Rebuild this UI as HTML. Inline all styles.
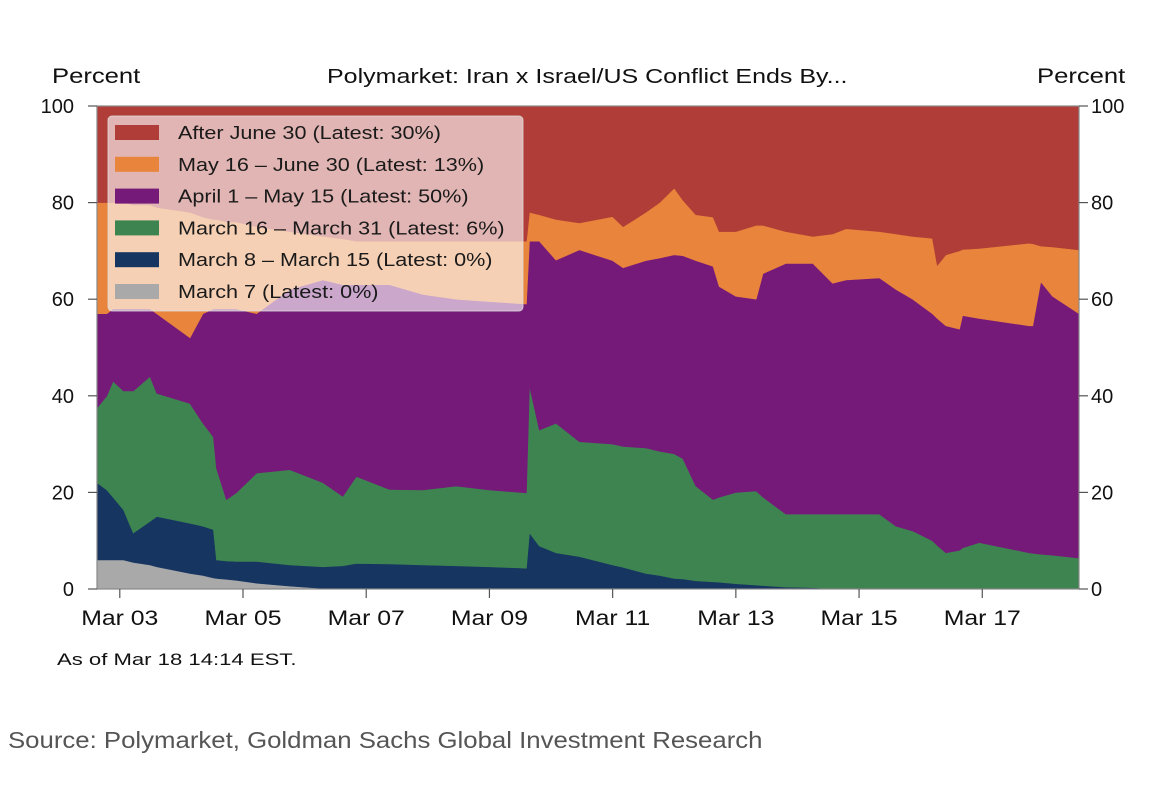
<!DOCTYPE html>
<html><head><meta charset="utf-8"><style>
body{margin:0;background:#fff;}
svg text{font-family:"Liberation Sans",Arial,sans-serif;}
</style></head><body>
<svg width="1160" height="780" viewBox="0 0 1160 780" xmlns="http://www.w3.org/2000/svg">
<g id="areas"></g>
<g id="axes"></g>
<g id="legend"></g>
<text class="w" data-sx="1.25" x="327" y="83" font-size="20" fill="#111">Polymarket: Iran x Israel/US Conflict Ends By...</text>
<text class="w" data-sx="1.22" x="52" y="83" font-size="21" fill="#111">Percent</text>
<text class="w" data-sx="1.22" x="1037" y="83" font-size="21" fill="#111">Percent</text>
<text class="w" data-sx="1.3" x="57" y="665" font-size="17" fill="#111">As of Mar 18 14:14 EST.</text>
<text class="w" data-sx="1.12" x="8" y="748" font-size="23" fill="#555">Source: Polymarket, Goldman Sachs Global Investment Research</text>
</svg>
<script>
// time in days since Mar 02 00:00
const times=[0.63,0.79,0.89,1.06,1.22,1.49,1.60,2.14,2.35,2.52,2.57,2.73,2.89,3.22,3.76,4.30,4.62,4.84,5.38,5.92,6.46,7.0,7.6,7.65,7.81,8.08,8.46,9.0,9.17,9.54,9.76,10.0,10.14,10.35,10.63,10.73,11.0,11.33,11.44,11.81,12.25,12.57,12.79,13.33,13.6,13.87,14.19,14.27,14.41,14.63,14.68,14.95,15.76,15.82,15.95,16.14,16.57];
// cumulative stacked levels (top of each band), percent
const cumMarch7=[6,6,6,6,5.5,5,4.6,3.2,2.8,2.3,2.2,2,1.8,1.2,0.6,0.1,0,0,0,0,0,0,0,0,0,0,0,0,0,0,0,0,0,0,0,0,0,0,0,0,0,0,0,0,0,0,0,0,0,0,0,0,0,0,0,0,0];
const cumMarch8to15=[22,20.5,19,16.4,11.6,14,15,13.6,13,12.3,6,5.8,5.7,5.7,5,4.6,4.8,5.3,5.2,5,4.8,4.6,4.3,11.6,8.9,7.5,6.7,5,4.5,3.2,2.8,2.2,2.1,1.7,1.5,1.4,1.1,0.8,0.7,0.4,0.3,0,0,0,0,0,0,0,0,0,0,0,0,0,0,0,0];
const cumMarch16to31=[37.5,40,43,41,41,44,40.5,38.4,34.3,31.5,25,18.5,19.9,24,24.7,22,19.2,23.3,20.6,20.5,21.3,20.5,19.9,42,32.9,34.3,30.5,30,29.5,29.2,28.5,28,27,21.3,18.5,19,20,20.3,19,15.5,15.5,15.5,15.5,15.5,13,12,10,9,7.5,8,8.5,9.6,7.5,7.4,7.2,7,6.4];
const cumApr1toMay15=[57,57,58,58,58,58,57,52,57,58,58,58,58,57,62,64,63,63,63,61,60,59.5,59,72,72,68.1,70.2,68,66.5,68,68.5,69.2,69,68,66.8,62.6,60.6,60,65.3,67.4,67.4,63.3,64,64.4,62,60,57,56,54.5,53.8,56.6,56,54.5,54.5,63.6,60.6,57];
const cumMay16toJun30=[80,80,80,80,79.5,79.5,79,78,77,76.5,76.5,76,76,75,74,73,72.5,72,72,72,72,72,72,78,77.5,76.5,75.8,77.1,75,78,80,83,80.5,77.5,77,74,74,75.3,75.3,74,73,73.5,74.6,74,73.5,73,72.6,67,69.2,70,70.3,70.5,71.6,71.5,71,70.8,70.2];
const yTicks=[0,20,40,60,80,100];
const xTickDays=[1,3,5,7,9,11,13,15];
const xTickLabels=["Mar 03","Mar 05","Mar 07","Mar 09","Mar 11","Mar 13","Mar 15","Mar 17"];
const legendLabels=["After June 30 (Latest: 30%)","May 16 – June 30 (Latest: 13%)","April 1 – May 15 (Latest: 50%)","March 16 – March 31 (Latest: 6%)","March 8 – March 15 (Latest: 0%)","March 7 (Latest: 0%)"];

const NS="http://www.w3.org/2000/svg";
const L=97,R=1079,T=106,B=589,D0=0.63,D1=16.57;
const xs=d=>L+(d-D0)/(D1-D0)*(R-L);
const ys=v=>B-v/100*(B-T);
function mk(tag,attrs,parent){const e=document.createElementNS(NS,tag);for(const k in attrs)e.setAttribute(k,attrs[k]);parent.appendChild(e);return e;}
const areas=document.getElementById('areas');
const zeros=times.map(()=>0), hundreds=times.map(()=>100);
const bands=[
 ['band-march-7',zeros,cumMarch7,'#a9a9a9'],
 ['band-march-8-15',cumMarch7,cumMarch8to15,'#163661'],
 ['band-march-16-31',cumMarch8to15,cumMarch16to31,'#3e8450'],
 ['band-april-1-may-15',cumMarch16to31,cumApr1toMay15,'#761a7a'],
 ['band-may-16-june-30',cumApr1toMay15,cumMay16toJun30,'#e8843c'],
 ['band-after-june-30',cumMay16toJun30,hundreds,'#b03d37']];
bands.forEach(([name,lo,hi,col])=>{
 let d='';
 times.forEach((t,i)=>{d+=(i?'L':'M')+xs(t).toFixed(1)+','+ys(hi[i]).toFixed(1);});
 for(let i=times.length-1;i>=0;i--)d+='L'+xs(times[i]).toFixed(1)+','+ys(lo[i]).toFixed(1);
 const p=mk('path',{d:d+'Z',fill:col,stroke:col,'stroke-width':0.6},areas);
 
 
});
const ax=document.getElementById('axes');
const fr=mk('rect',{x:L,y:T,width:R-L,height:B-T,fill:'none',stroke:'#888','stroke-width':1.2},ax);


yTicks.forEach(v=>{
 const y=ys(v);
 mk('line',{x1:L-9,x2:L,y1:y,y2:y,stroke:'#555','stroke-width':1.2},ax);
 mk('line',{x1:R,x2:R+9,y1:y,y2:y,stroke:'#555','stroke-width':1.2},ax);
 const a=mk('text',{x:L-23,y:y+7,'font-size':20,'text-anchor':'end',fill:'#111'},ax);a.textContent=v;
 
 
 const b=mk('text',{x:R+12,y:y+7,'font-size':20,fill:'#111'},ax);b.textContent=v;
 
 
});
xTickDays.forEach((d,i)=>{
 const x=xs(d);
 mk('line',{x1:x,x2:x,y1:B,y2:B+9,stroke:'#555','stroke-width':1.2},ax);
 const t=mk('text',{x:x,y:B+36,'font-size':21,'text-anchor':'middle',fill:'#111',class:'w','data-sx':'1.18'},ax);t.textContent=xTickLabels[i];
 
 
});
const lg=document.getElementById('legend');
const box=mk('rect',{x:108,y:116,width:415,height:195,rx:4,fill:'rgba(255,255,255,0.62)',stroke:'rgba(220,220,220,0.8)'},lg);


const legCols=['#b03d37','#e8843c','#761a7a','#3e8450','#163661','#a9a9a9'];
legendLabels.forEach((lab,i)=>{
 const y=132+i*31.8;
 const s=mk('rect',{x:115,y:y-7,width:44,height:15,fill:legCols[i]},lg);
 
 
 const t=mk('text',{x:178,y:y+7,'font-size':18,fill:'#1a1a1a',class:'w','data-sx':'1.2'},lg);t.textContent=lab;
 
 
});
document.querySelectorAll('text.w').forEach(t=>{
 const sx=parseFloat(t.getAttribute('data-sx'));
 const w=t.getComputedTextLength();
 t.setAttribute('textLength',(w*sx).toFixed(1));
 t.setAttribute('lengthAdjust','spacingAndGlyphs');
});
</script>
</body></html>
